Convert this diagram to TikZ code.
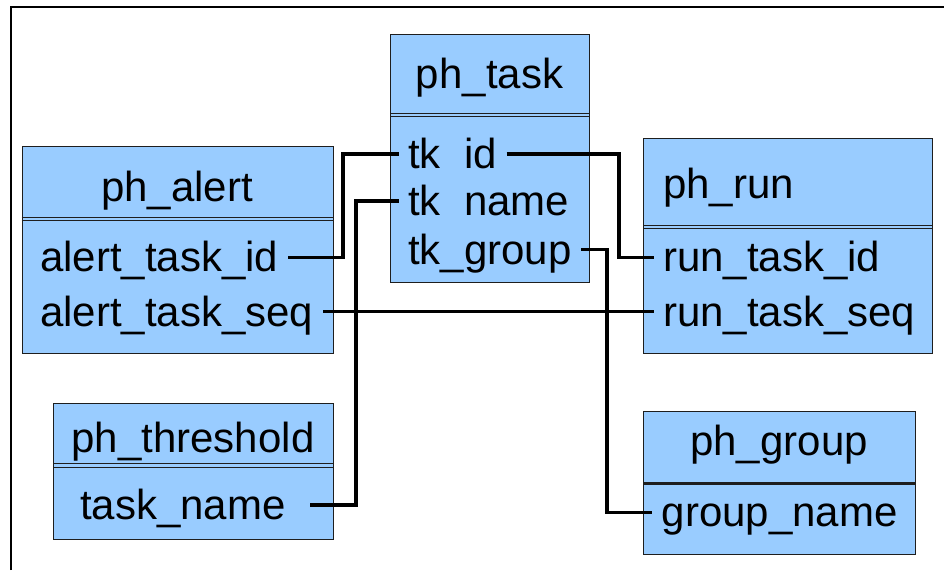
\documentclass[tikz,border=0pt]{standalone}
\usepackage{fontspec}
\setmainfont{Liberation Sans}
\definecolor{tablefill}{RGB}{153,204,255}
\definecolor{edge}{RGB}{30,30,30}
\tikzset{
  tablebox/.style={draw=edge, line width=1.3pt, fill=tablefill, inner sep=0pt, anchor=north west},
  title/.style={font=\fontsize{42}{48}\selectfont, inner sep=0pt, anchor=base},
  field/.style={font=\fontsize{42}{48}\selectfont, inner xsep=9.5pt, inner ysep=0pt,
                text height=33pt, text depth=4pt, anchor=base west},
  rule/.style={draw=edge, line width=1pt},
  conn/.style={line width=3.2pt, line join=miter},
}
\begin{document}
\begin{tikzpicture}[x=1pt, y=-1pt]
\useasboundingbox (0,0) rectangle (944,570);
% outer frame
\draw[line width=2pt] (11,570) -- (11,7) -- (944,7);

% ---- ph_task ----
\node[tablebox, minimum width=199pt, minimum height=248pt] (task) at (390,34) {};
\draw[rule] (390,113) -- (589,113);
\draw[rule] (390,116.5) -- (589,116.5);
\node[title] (tasktitle) at (489.5,88) {ph\_task};
\node[field] (tkid)    at (398.5,168.5) {tk\phantom{\_}id};
\node[field] (tkname)  at (398.5,215.5) {tk\phantom{\_}name};
\node[field] (tkgroup) at (398.5,264)   {tk\_group};

% ---- ph_alert ----
\node[tablebox, minimum width=311.5pt, minimum height=207pt] (alert) at (21.5,146) {};
\draw[rule] (21.5,217) -- (333,217);
\draw[rule] (21.5,220.5) -- (333,220.5);
\node[title] (alerttitle) at (177,201.7) {ph\_alert};
\node[field] (atid)  at (30.5,271.7) {alert\_task\_id};
\node[field] (atseq) at (30.5,326)   {alert\_task\_seq};

% ---- ph_threshold ----
\node[tablebox, minimum width=280pt, minimum height=136pt] (thresh) at (53,403) {};
\draw[rule, line width=1.4pt] (53,463.5) -- (333,463.5);
\draw[rule, line width=1.4pt] (53,467.5) -- (333,467.5);
\node[title] (threshtitle) at (193,452) {ph\_threshold};
\node[field, inner xsep=24pt] (tname) at (56,519.5) {task\_name};

% ---- ph_run ----
\node[tablebox, minimum width=289pt, minimum height=215pt] (run) at (643,138) {};
\draw[rule] (643,225.5) -- (932,225.5);
\draw[rule] (643,228.5) -- (932,228.5);
\node[title, anchor=base west] (runtitle) at (663,198) {ph\_run};
\node[field] (runid)  at (653.5,271.7) {run\_task\_id};
\node[field] (runseq) at (653.5,326)   {run\_task\_seq};

% ---- ph_group ----
\node[tablebox, minimum width=272pt, minimum height=143pt] (group) at (643,411) {};
\draw[rule, line width=3pt] (643,483.5) -- (915,483.5);
\node[title] (grouptitle) at (779,455) {ph\_group};
\node[field] (gname) at (652,526.7) {group\_name};

% channels for the vertical runs of the connectors
\coordinate (ch1) at (343,0);
\coordinate (ch2) at (356,0);
\coordinate (ch3) at (619,0);
\coordinate (ch4) at (607,0);

% ---- connectors ----
\draw[conn] (atid.east) -- (atid.east -| ch1) |- (tkid.west);
\draw[conn] (tkname.west) -- (tkname.west -| ch2) |- (tname.east);
\draw[conn] (tkid.east) -- (tkid.east -| ch3) |- (runid.west);
\draw[conn] (tkgroup.east) -- (tkgroup.east -| ch4) |- (gname.west);
\draw[conn] (atseq.east) -- (runseq.west);
\end{tikzpicture}
\end{document}
